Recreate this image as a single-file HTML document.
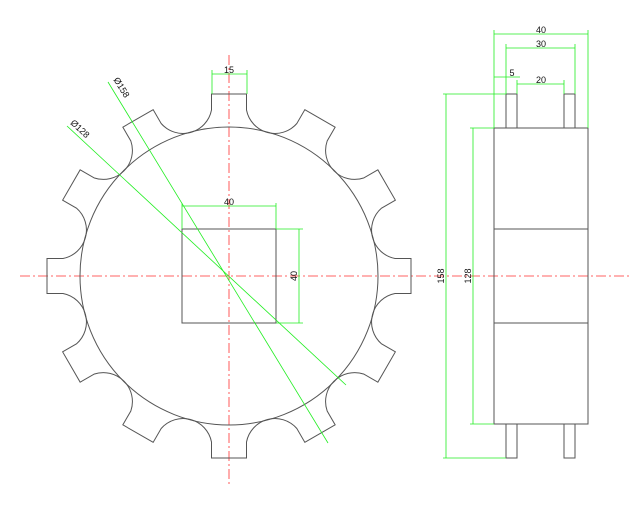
<!DOCTYPE html>
<html><head><style>html,body{margin:0;padding:0;background:#fff;width:640px;height:512px;overflow:hidden}</style></head>
<body>
<svg id="s" width="640" height="512" viewBox="0 0 640 512" xmlns="http://www.w3.org/2000/svg" font-family="Liberation Sans, sans-serif" font-size="9">
<g stroke="#ff3030" stroke-width="0.8" stroke-dasharray="10,3,2,3" fill="none">
<line x1="20" y1="276" x2="632" y2="276"/>
<line x1="229" y1="55" x2="229" y2="486"/>
</g>
<g stroke="#555" stroke-width="1" fill="none">
<path id="gear" d=""/>
<circle cx="229" cy="276" r="149"/>
<rect x="182" y="229" width="94" height="94"/>
<rect x="494" y="128" width="94" height="296"/>
<line x1="494" y1="229" x2="588" y2="229"/>
<line x1="494" y1="323" x2="588" y2="323"/>
<rect x="506" y="94" width="11" height="34"/>
<rect x="564" y="94" width="11" height="34"/>
<rect x="506" y="424" width="11" height="34"/>
<rect x="564" y="424" width="11" height="34"/>
</g>
<g stroke="#22ee22" stroke-width="0.8" fill="none">
<line x1="212" y1="94" x2="212" y2="70"/><line x1="247" y1="94" x2="247" y2="70"/><line x1="212" y1="74" x2="247" y2="74"/>
<line x1="182" y1="229" x2="182" y2="203"/><line x1="276" y1="229" x2="276" y2="203"/><line x1="182" y1="206" x2="276" y2="206"/>
<line x1="276" y1="229" x2="303" y2="229"/><line x1="276" y1="323" x2="303" y2="323"/><line x1="299" y1="229" x2="299" y2="323"/>
<line x1="108" y1="82" x2="328" y2="443"/>
<line x1="67" y1="126" x2="346" y2="385"/>
<line x1="494" y1="30" x2="494" y2="128"/><line x1="588" y1="30" x2="588" y2="128"/><line x1="494" y1="34" x2="588" y2="34"/>
<line x1="506" y1="44" x2="506" y2="94"/><line x1="575" y1="44" x2="575" y2="94"/><line x1="506" y1="48" x2="575" y2="48"/>
<line x1="494" y1="77" x2="520" y2="77"/><line x1="517" y1="80" x2="517" y2="94"/><line x1="564" y1="80" x2="564" y2="94"/><line x1="517" y1="84" x2="564" y2="84"/>
<line x1="443" y1="94" x2="506" y2="94"/><line x1="443" y1="458" x2="506" y2="458"/><line x1="446" y1="94" x2="446" y2="458"/>
<line x1="470" y1="128" x2="494" y2="128"/><line x1="470" y1="424" x2="494" y2="424"/><line x1="473" y1="128" x2="473" y2="424"/>
</g>
<g fill="#111" text-anchor="middle">
<text x="229" y="73">15</text>
<text x="229" y="205">40</text>
<text transform="translate(297,276) rotate(-90)">40</text>
<text x="541" y="33">40</text>
<text x="541" y="47">30</text>
<text x="512" y="76">5</text>
<text x="541" y="83">20</text>
<text transform="translate(444,276) rotate(-90)">158</text>
<text transform="translate(471,276) rotate(-90)">128</text>
<text transform="translate(119,89) rotate(58.5)">Ø158</text>
<text transform="translate(78,131) rotate(42.8)">Ø128</text>
</g>
</svg>
<script>
var cx=229,cy=276,w=17.5,Ro=182,Ri=166,d="";
function P(r,off,phi){var a=phi*Math.PI/180;return [(cx+r*Math.sin(a)+off*Math.cos(a)).toFixed(2),(cy-r*Math.cos(a)+off*Math.sin(a)).toFixed(2)];}
for(var k=0;k<12;k++){var f=30*k;
var a=P(Ri,-w,f),b=P(Ro,-w,f),c=P(Ro,w,f),e=P(Ri,w,f),n=P(Ri,-w,f+30);
if(k==0)d+="M"+a[0]+","+a[1];
d+=" L"+b[0]+","+b[1]+" L"+c[0]+","+c[1]+" L"+e[0]+","+e[1]+" A29,29 0 0 0 "+n[0]+","+n[1];}
d+="Z";document.getElementById("gear").setAttribute("d",d);
</script>
</body></html>
